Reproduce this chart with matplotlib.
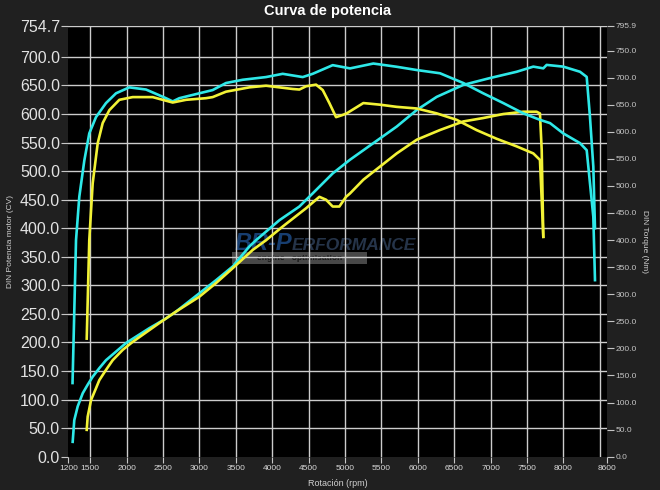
import numpy as np
import matplotlib
matplotlib.use('Agg')
import matplotlib.pyplot as plt
from matplotlib.patches import Rectangle

# curva cian - potencia (CV)
rpm_pot_cian = [1260, 1282, 1329, 1398, 1466, 1535, 1626, 1718, 1993, 2313, 2542, 2679, 2999, 3229,
                3458, 3687, 3778, 4099, 4374, 4557, 4832, 5070, 5390, 5711, 5986, 6260, 6626, 6993,
                7359, 7588, 7725, 7771, 7999, 8229, 8321, 8366, 8412, 8435]
pot_cian = [26, 64, 88, 111, 126, 140, 155, 169, 199, 225, 242, 254, 286, 309,
            333, 368, 379, 414, 438, 461, 496, 520, 549, 578, 607, 630, 651, 663,
            674, 683, 680, 686, 683, 674, 665, 595, 508, 400]

# curva cian - par (Nm)
rpm_par_cian = [1258, 1306, 1351, 1420, 1488, 1580, 1718, 1855, 2038, 2267, 2542, 2634, 2725, 2999,
                3183, 3366, 3595, 3916, 4145, 4420, 4557, 4832, 5070, 5390, 5711, 5986, 6306, 6626,
                6900, 7175, 7450, 7679, 7817, 7999, 8229, 8321, 8366, 8412, 8435]
par_cian = [136, 400, 480, 547, 597, 627, 653, 671, 682, 678, 662, 656, 662, 671,
            677, 690, 696, 701, 707, 701, 707, 723, 717, 726, 720, 714, 708, 690,
            671, 653, 634, 622, 616, 597, 579, 566, 505, 443, 326]

# curva amarilla - potencia (CV)
rpm_pot_amar = [1453, 1466, 1512, 1581, 1626, 1718, 1810, 1947, 2084, 2450, 2679, 2999, 3229, 3458,
                3733, 3916, 4145, 4466, 4649, 4740, 4832, 4923, 5015, 5070, 5253, 5482, 5711, 5986,
                6306, 6626, 6900, 7175, 7450, 7633, 7679, 7703, 7725]
pot_amar = [47, 70, 99, 120, 134, 152, 169, 187, 201, 234, 254, 280, 304, 330,
            362, 379, 403, 435, 455, 450, 438, 438, 455, 461, 485, 508, 531, 555,
            572, 587, 593, 600, 604, 604, 601, 537, 385]

# curva amarilla - par (Nm)
rpm_par_amar = [1453, 1488, 1535, 1604, 1672, 1764, 1901, 2084, 2359, 2496, 2634, 2817, 3091, 3183,
                3366, 3687, 3916, 4283, 4374, 4466, 4603, 4695, 4786, 4878, 4969, 5024, 5253, 5482,
                5711, 5986, 6260, 6535, 6810, 7085, 7359, 7588, 7679, 7703, 7725]
par_amar = [218, 400, 505, 579, 616, 640, 659, 664, 664, 659, 654, 659, 662, 664,
            674, 682, 685, 679, 678, 684, 687, 677, 653, 627, 631, 634, 653, 650,
            646, 643, 634, 622, 603, 587, 573, 560, 548, 474, 406]

xticks = [1200, 1500, 2000, 2500, 3000, 3500, 4000, 4500, 5000, 5500, 6000, 6500, 7000, 7500, 8000, 8600]
xgrid = [1500, 2000, 2500, 3000, 3500, 4000, 4500, 5000, 5500, 6000, 6500, 7000, 7500, 8000, 8500]
yticks_cv = [0, 50, 100, 150, 200, 250, 300, 350, 400, 450, 500, 550, 600, 650, 700, 754.7]
yticks_nm = [0, 50, 100, 150, 200, 250, 300, 350, 400, 450, 500, 550, 600, 650, 700, 750, 795.9]

cian = '#2ee8e8'
amarillo = '#f2f236'
fondo = '#202020'

fig = plt.figure(figsize=(6.6, 4.9), dpi=100, facecolor=fondo)
ax = fig.add_axes([0.1035, 0.068, 0.8162, 0.8796])
ax.set_facecolor('black')
ax2 = ax.twinx()

ax.plot(rpm_pot_cian, pot_cian, color=cian, lw=1.9, zorder=3)
ax.plot(rpm_pot_amar, pot_amar, color=amarillo, lw=1.9, zorder=3)
ax2.plot(rpm_par_cian, par_cian, color=cian, lw=1.9)
ax2.plot(rpm_par_amar, par_amar, color=amarillo, lw=1.9)

ax.set_xlim(1200, 8600)
ax.set_ylim(0, 754.7)
ax2.set_ylim(0, 795.9)

ax.set_xticks(xticks)
ax.set_xticklabels([str(t) for t in xticks], fontsize=6, family='Liberation Sans')
ax.set_yticks(yticks_cv)
ax.set_yticklabels(['%.1f' % t for t in yticks_cv], fontsize=11.5, family='Liberation Sans')
ax2.set_yticks(yticks_nm)
ax2.set_yticklabels(['%.1f' % t for t in yticks_nm], fontsize=6, family='Liberation Sans')

ax.tick_params(axis='x', colors='#c8c8c8', length=4, width=0.8, pad=2, labelcolor='#d8d8d8')
ax.tick_params(axis='y', colors='#c8c8c8', length=5, width=0.8, pad=1, labelcolor='#e2e2e2')
ax2.tick_params(axis='y', colors='#c4c4c4', length=5, width=0.8, pad=1, labelcolor='#c4c4c4')

# rejilla
ax.grid(False)
for g in xgrid:
    ax.axvline(g, color='#cccccc', lw=1.0, zorder=1)
for g in yticks_cv[1:]:
    ax.axhline(g, color='#cccccc', lw=1.0, zorder=1)

for a in (ax, ax2):
    for s in a.spines.values():
        s.set_visible(False)

ax.set_xlabel('Rotación (rpm)', fontsize=6.5, color='#d0d0d0', family='Liberation Sans', labelpad=5)
ax.set_ylabel('DIN Potencia motor (CV)', fontsize=6, color='#d0d0d0', family='Liberation Sans', labelpad=4)
ax2.set_ylabel('DIN Torque (Nm)', fontsize=6, color='#d0d0d0', family='Liberation Sans', rotation=270, labelpad=8)

fig.text(0.496, 0.978, 'Curva de potencia', ha='center', va='center', fontsize=10.5,
         fontweight='bold', color='white', family='Liberation Sans')

# marca de agua (debajo de la rejilla)
ax.add_patch(Rectangle((0.304, 0.447), 0.25, 0.027, transform=ax.transAxes,
                       facecolor='#484848', edgecolor='none', zorder=0.8))
ax.text(0.309, 0.479, 'BR-P', transform=ax.transAxes, ha='left', va='baseline',
        fontsize=17, fontstyle='italic', fontweight='bold', color='#1c4a85', alpha=0.85, zorder=0.8,
        family='Liberation Sans')
ax.text(0.414, 0.479, 'ERFORMANCE', transform=ax.transAxes, ha='left', va='baseline',
        fontsize=12.5, fontstyle='italic', fontweight='bold', color='#2a3a52', alpha=0.9, zorder=0.8,
        family='Liberation Sans')
ax.text(0.43, 0.460, 'engine   optimisation', transform=ax.transAxes, ha='center', va='center',
        fontsize=6, fontweight='bold', color='#141414', zorder=0.85, family='Liberation Sans')

plt.savefig('out.png', dpi=100, facecolor=fondo)
